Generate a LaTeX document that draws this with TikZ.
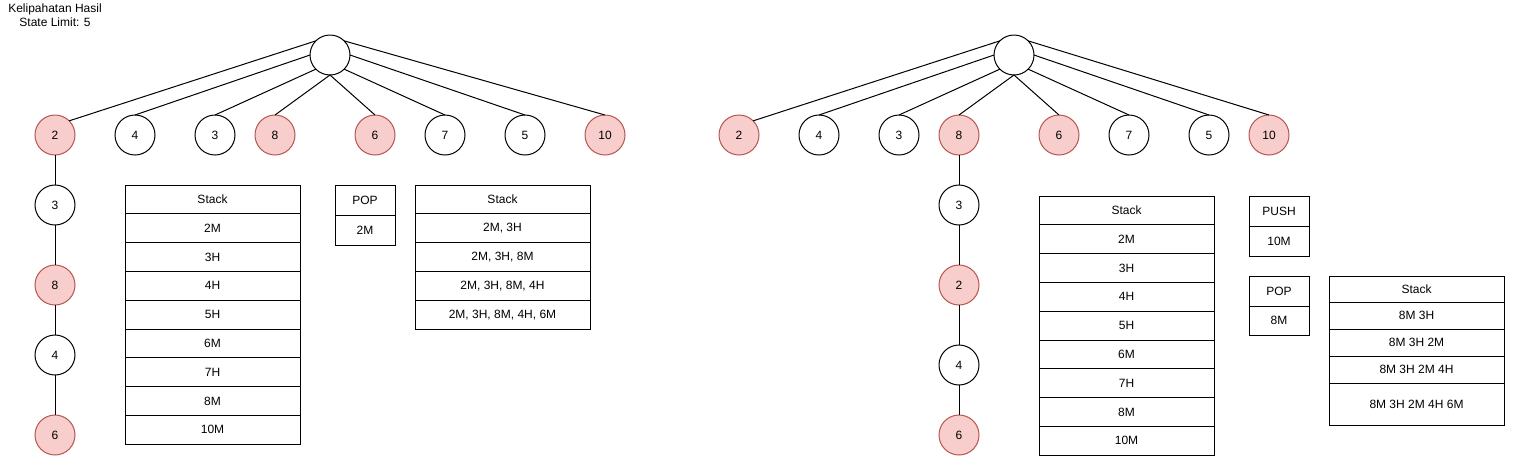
\documentclass[tikz,border=0pt]{standalone}
\usepackage{fontspec}
\setmainfont{Liberation Sans}
\usetikzlibrary{positioning}
\definecolor{hitfill}{HTML}{F8CECC}
\definecolor{hitline}{HTML}{B85450}

\tikzset{
  vtx/.style={circle,draw,fill=white,minimum size=40pt,inner sep=0pt,outer sep=0pt},
  hit/.style={vtx,draw=hitline,fill=hitfill},
  cell/.style={draw,minimum width=175pt,minimum height=28.8pt,inner sep=0pt,outer sep=0pt,anchor=north west},
  opcell/.style={cell,minimum width=60pt,minimum height=30pt}
}

\begin{document}
\begin{tikzpicture}[x=1pt,y=-1pt,line width=1pt,font=\fontsize{12}{14}\selectfont]
  \useasboundingbox (0,0) rectangle (1513,456);

  \node[align=center] (title) at (55,15) {Kelipahatan Hasil\\State Limit: 5};

  % left tree
  \node[vtx] (lr)                       at (330,55) {};
  \node[hit] (l2)                       at (55,135) {2};
  \node[vtx] (l4)  [right=40pt of l2]   {4};
  \node[vtx] (l3)  [right=40pt of l4]   {3};
  \node[hit] (l8)  [right=20pt of l3]   {8};
  \node[hit] (l6)  [right=60pt of l8]   {6};
  \node[vtx] (l7)  [right=30pt of l6]   {7};
  \node[vtx] (l5)  [right=40pt of l7]   {5};
  \node[hit] (l10) [right=40pt of l5]   {10};

  \node[vtx] (lc3) [below=30pt of l2]   {3};
  \node[hit] (lc8) [below=40pt of lc3]  {8};
  \node[vtx] (lc4) [below=30pt of lc8]  {4};
  \node[hit] (lc6) [below=40pt of lc4]  {6};

  \draw (lr.135) -- (l2.45);
  \foreach \a/\c in {180/4,225/3,270/8,270/6,315/7,0/5,45/10}
    \draw (lr.\a) -- (l\c.north);
  \draw (l2) -- (lc3) -- (lc8) -- (lc4) -- (lc6);

  % left stacks
  \foreach \t [count=\i from 0] in {Stack,2M,3H,4H,5H,6M,7H,8M,10M}
    \node[cell] (ls\i) at (125,{185+28.8*\i}) {\t};

  \node[opcell] (lpop)                       at (335,185) {POP};
  \node[opcell] (lpopv) [below=0pt of lpop]  {2M};

  \foreach \t [count=\i from 0] in {Stack,{2M, 3H},{2M, 3H, 8M},{2M, 3H, 8M, 4H},{2M, 3H, 8M, 4H, 6M}}
    \node[cell] (lt\i) at (415,{185+28.8*\i}) {\t};

  % right tree
  \node[vtx] (rr)                       at (1014,55) {};
  \node[hit] (r2)                       at (739,135) {2};
  \node[vtx] (r4)  [right=40pt of r2]   {4};
  \node[vtx] (r3)  [right=40pt of r4]   {3};
  \node[hit] (r8)  [right=20pt of r3]   {8};
  \node[hit] (r6)  [right=60pt of r8]   {6};
  \node[vtx] (r7)  [right=30pt of r6]   {7};
  \node[vtx] (r5)  [right=40pt of r7]   {5};
  \node[hit] (r10) [right=20pt of r5]   {10};

  \node[vtx] (rc3) [below=30pt of r8]   {3};
  \node[hit] (rc2) [below=40pt of rc3]  {2};
  \node[vtx] (rc4) [below=40pt of rc2]  {4};
  \node[hit] (rc6) [below=30pt of rc4]  {6};

  \draw (rr.135) -- (r2.45);
  \foreach \a/\c in {180/4,225/3,270/8,270/6,315/7,0/5,45/10}
    \draw (rr.\a) -- (r\c.north);
  \draw (r8) -- (rc3) -- (rc2) -- (rc4) -- (rc6);

  % right stacks
  \foreach \t [count=\i from 0] in {Stack,2M,3H,4H,5H,6M,7H,8M,10M}
    \node[cell] (rs\i) at (1039,{196+28.8*\i}) {\t};

  \node[opcell] (rpush)                        at (1249,196) {PUSH};
  \node[opcell] (rpushv) [below=0pt of rpush]  {10M};
  \node[opcell] (rpop)                         at (1249,276) {POP};
  \node[opcell] (rpopv)  [below=0pt of rpop,minimum height=29pt] {8M};

  \foreach \t/\y/\h [count=\i from 0] in {Stack/276/26,8M 3H/302/27,8M 3H 2M/329/27,8M 3H 2M 4H/356/27,8M 3H 2M 4H 6M/383/42}
    \node[cell,minimum height=\h pt] (rt\i) at (1329,\y) {\t};
\end{tikzpicture}
\end{document}
